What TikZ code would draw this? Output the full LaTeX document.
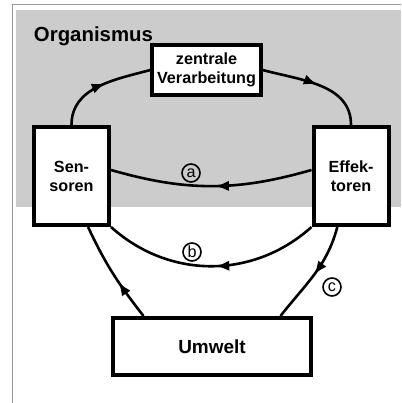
\documentclass[tikz,border=0pt]{standalone}
\usepackage{fontspec}
\setmainfont{Liberation Sans}
\usetikzlibrary{arrows.meta,decorations.markings}
\tikzset{box/.style={draw,line width=1mm,fill=white,align=center,font=\fontsize{11.5}{13.5}\selectfont\bfseries}}
\tikzset{flow/.style={line width=0.65mm,postaction={decorate},decoration={markings,mark=at position #1 with {\arrow{Latex[length=3.4mm,width=2.6mm]}}}},flow/.default=0.5}
\tikzset{tag/.style={draw,circle,line width=0.4mm,inner sep=0pt,minimum size=4.5mm,font=\fontsize{11.5}{11.5}\selectfont}}

\begin{document}
\begin{tikzpicture}[x=0.25mm,y=0.25mm]
            \useasboundingbox (0,0) rectangle (401,403);
            % frame and the organism area
            \draw[gray!80,line width=0.25mm] (12,0) -- (12,398) -- (401,398);
            \fill[gray!40] (16,196) rectangle (401,393);
            \node[anchor=base west,font=\fontsize{14.5}{16}\selectfont\bfseries] (org) at (29,361) {Organismus};
            % the boxes
            \node[box,minimum width=24.75mm,minimum height=12.5mm] (zv) at (206.5,333) {zentrale\\Verarbeitung};
            \node[box,minimum width=18.75mm,minimum height=24.5mm] (sen) at (71.5,227) {Sen-\\soren};
            \node[box,minimum width=18.75mm,minimum height=24.5mm] (eff) at (351,227) {Effek-\\toren};
            \node[box,minimum width=49.5mm,minimum height=14.25mm,font=\fontsize{13.5}{15}\selectfont\bfseries] (um) at (212,56.5) {Umwelt};
            % the loops
            \draw[flow=0.55] (sen.north) to[out=90,in=195] (zv.west);
            \draw[flow] (zv.east) to[out=-15,in=90] (eff.north);
            \draw[flow=0.48] ([yshift=1.5mm]eff.west) to[out=196,in=-16] ([yshift=1.5mm]sen.east);
            \draw[flow=0.48] (eff.south west) to[out=222,in=-42] (sen.south east);
            \draw[flow] (eff.-105) to[out=-105,in=52] (um.24);
            \draw[flow=0.4] (um.156) to[out=128,in=-65] (sen.-72);
            % the path labels
            \node[tag] (la) at (191,230) {a};
            \node[tag] (lb) at (192,151) {b};
            \node[tag] (lc) at (332,116) {c};
        \end{tikzpicture}
\end{document}
